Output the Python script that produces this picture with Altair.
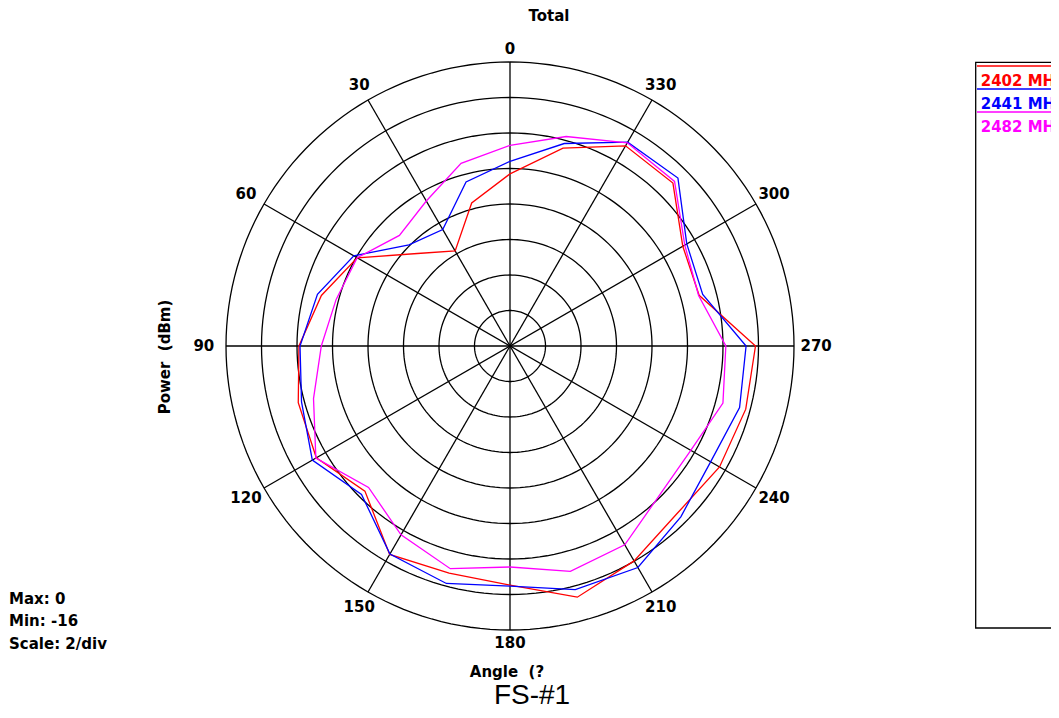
import altair as alt
import pandas as pd

# ---------------- data ----------------
angles = list(range(0, 360, 15))
series_names = ["2402 MHz", "2441 MHz", "2482 MHz"]
series_colors = ["#ff0000", "#0000ff", "#ff00ff"]
red_2402 = [-6.30, -7.66, -9.82, -8.63, -6.06, -5.00, -4.11, -3.65, -3.40, -4.44, -2.44, -2.75,
            -2.53, -1.35, -2.02, -2.67, -2.37, -2.25, -2.17, -4.97, -4.76, -3.02, -2.98, -4.46]
blue_2441 = [-5.60, -6.43, -8.42, -7.95, -5.84, -4.77, -4.17, -3.84, -3.14, -4.17, -2.47, -2.15,
             -2.47, -1.79, -1.59, -2.39, -2.95, -2.61, -2.70, -4.76, -4.50, -2.62, -2.74, -4.19]
mag_2482 = [-4.70, -5.35, -6.57, -7.19, -6.06, -5.86, -5.37, -4.54, -3.37, -4.73, -3.72, -3.01,
            -3.55, -2.86, -3.07, -4.10, -4.24, -3.58, -3.84, -5.00, -4.63, -2.89, -2.78, -3.78]
ring_levels = [-14, -12, -10, -8, -6, -4, -2, 0]
spoke_angles = [0, 30, 60, 90, 120, 150]
label_angles = list(range(0, 360, 30))
info_lines = ["Max: 0", "Min: -16", "Scale: 2/div"]
MIN_DB, MAX_DB = -16, 0

# ---------------- layout ----------------
W, H = 1043, 702
CX, CY, R = 502, 338, 284          # centre and radius of the polar grid, in plot pixels
xdom = [-CX / R, (W - CX) / R]
ydom = [-(H - CY) / R, CY / R]
FONT = "DejaVu Sans"
NB = "\u00a0"

xs = alt.Scale(domain=xdom, nice=False, zero=False)
ys = alt.Scale(domain=ydom, nice=False, zero=False)

# ---------------- tables ----------------
rows = []
for name, vals in zip(series_names, [red_2402, blue_2441, mag_2482]):
    for a, v in zip(angles, vals):
        rows.append({"series": name, "angle": a, "db": v})
    rows.append({"series": name, "angle": 360, "db": vals[0]})
series_df = pd.DataFrame(rows)

ring_df = pd.DataFrame([{"level": lv, "angle": a} for lv in ring_levels for a in range(0, 361, 2)])
spoke_df = pd.DataFrame({"angle": spoke_angles})
label_df = pd.DataFrame({"angle": label_angles, "label": [str(a) for a in label_angles]})
one = pd.DataFrame({"a": [0]})

polar_r = f"(datum.db - ({MIN_DB})) / ({MAX_DB} - ({MIN_DB}))"

rings = alt.Chart(ring_df).transform_calculate(
    r=f"(datum.level - ({MIN_DB})) / ({MAX_DB} - ({MIN_DB}))"
).transform_calculate(
    x="-datum.r * sin(datum.angle * PI / 180)",
    y="datum.r * cos(datum.angle * PI / 180)",
).mark_line(color="black", strokeWidth=1.3).encode(
    x=alt.X("x:Q", scale=xs, axis=None),
    y=alt.Y("y:Q", scale=ys, axis=None),
    detail="level:N",
    order="angle:Q",
)

spokes = alt.Chart(spoke_df).transform_calculate(
    x="-sin(datum.angle * PI / 180)",
    y="cos(datum.angle * PI / 180)",
    x2="sin(datum.angle * PI / 180)",
    y2="-cos(datum.angle * PI / 180)",
).mark_rule(color="black", strokeWidth=1.3).encode(
    x=alt.X("x:Q", scale=xs, axis=None),
    y=alt.Y("y:Q", scale=ys, axis=None),
    x2="x2:Q",
    y2="y2:Q",
)

labels = alt.Chart(label_df).transform_calculate(
    rl="1.045 + 0.033 * abs(sin(datum.angle * PI / 180))"
).transform_calculate(
    x="-datum.rl * sin(datum.angle * PI / 180)",
    y="datum.rl * cos(datum.angle * PI / 180)",
).mark_text(font=FONT, fontWeight="bold", fontSize=15, color="black",
            align="center", baseline="middle").encode(
    x=alt.X("x:Q", scale=xs, axis=None),
    y=alt.Y("y:Q", scale=ys, axis=None),
    text="label:N",
)

lines = alt.Chart(series_df).transform_calculate(
    r=polar_r
).transform_calculate(
    x="-datum.r * sin(datum.angle * PI / 180)",
    y="datum.r * cos(datum.angle * PI / 180)",
).mark_line(strokeWidth=1.3).encode(
    x=alt.X("x:Q", scale=xs, axis=None),
    y=alt.Y("y:Q", scale=ys, axis=None),
    color=alt.Color("series:N", scale=alt.Scale(domain=series_names, range=series_colors), legend=None),
    detail="series:N",
    order="angle:Q",
)

def txt(t, px, py, size=15, weight="bold", align="center", angle=0, color="black",
        font=FONT, baseline="middle"):
    kw = dict(font=font, fontSize=size, fontWeight=weight, align=align, baseline=baseline,
              color=color, text=t)
    if angle:
        kw["angle"] = angle
    return alt.Chart(one).mark_text(**kw).encode(x=alt.value(px - 8), y=alt.value(py - 8))

annots = [
    txt("Total", 549, 16),
    txt("Power" + NB + NB + "(dBm)", 165, 357, angle=270),
    txt("Angle" + NB + NB + "(?", 507, 672),
    txt("FS-#1", 532, 704, size=28, weight="normal", font="Liberation Sans", baseline="alphabetic"),
]
for i, line in enumerate(info_lines):
    annots.append(txt(line, 9, 598.7 + 22.5 * i, align="left"))

# custom legend box (runs off the right edge, as in the reference)
legend_box = alt.Chart(one).mark_rect(fill=None, fillOpacity=0, stroke="black", strokeWidth=1.3).encode(
    x=alt.value(975.7 - 8), x2=alt.value(W + 30), y=alt.value(62.3 - 8), y2=alt.value(628 - 8)
)
legend_parts = [legend_box]
for i, (name, col) in enumerate(zip(series_names, series_colors)):
    ly = 66 + 23 * i
    legend_parts.append(
        alt.Chart(one).mark_rule(color=col, strokeWidth=1.3).encode(
            x=alt.value(977 - 8), x2=alt.value(W + 30), y=alt.value(ly - 8)
        )
    )
    legend_parts.append(txt(name, 980.7, ly + 15, align="left", color=col))

chart = alt.layer(rings, spokes, labels, lines, *annots, *legend_parts).properties(
    width=W, height=H, autosize=alt.AutoSizeParams(type="none"), padding=0
).configure_view(stroke=None)

chart.save("out.html", embed_options={"renderer": "svg", "actions": False})
